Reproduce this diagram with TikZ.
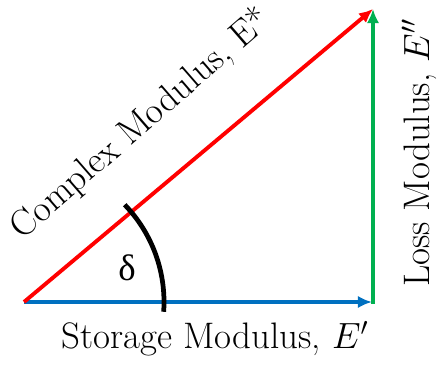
\documentclass[tikz,border=0pt]{standalone}
\usepackage{fontspec}
\newfontfamily\greekfont{Liberation Serif}
\usetikzlibrary{arrows.meta}
\definecolor{storeblue}{RGB}{0,112,192}
\definecolor{lossgreen}{RGB}{0,176,80}

\begin{document}
\begin{tikzpicture}[
  x=0.02cm, y=0.02cm,
  every node/.style={font=\fontsize{21}{25}\selectfont},
  vec/.style={line width=2.2pt, -{Latex[length=8pt,width=7pt]}},
  angarc/.style={line width=2.7pt, black}
]
\useasboundingbox (0,0) rectangle (439,365);

%% --- Corners ------------------------------------------------
\coordinate (O) at (24,63);
\coordinate (B) at (372,63);
\coordinate (T) at (373,356);

%% --- Vectors ------------------------------------------------
\draw[vec, storeblue] (O) -- (B);
\draw[vec, lossgreen] ([yshift=-1.1pt]B -| T) -- (T);
\draw[vec, red] (O) -- (T);

%% --- Phase angle --------------------------------------------
\draw[angarc] (O) ++(-4:140) arc[start angle=-4, end angle=44, radius=140];
\node (delta) at (127,97) {\greekfont δ};

%% --- Labels -------------------------------------------------
\node (store) at (215,26) {Storage Modulus, $E'$};
\node[rotate=90] (loss) at (419,212) {Loss Modulus, $E''$};
\node[rotate=41] (cplx) at (141,241) {Complex Modulus, E*};

\end{tikzpicture}
\end{document}
